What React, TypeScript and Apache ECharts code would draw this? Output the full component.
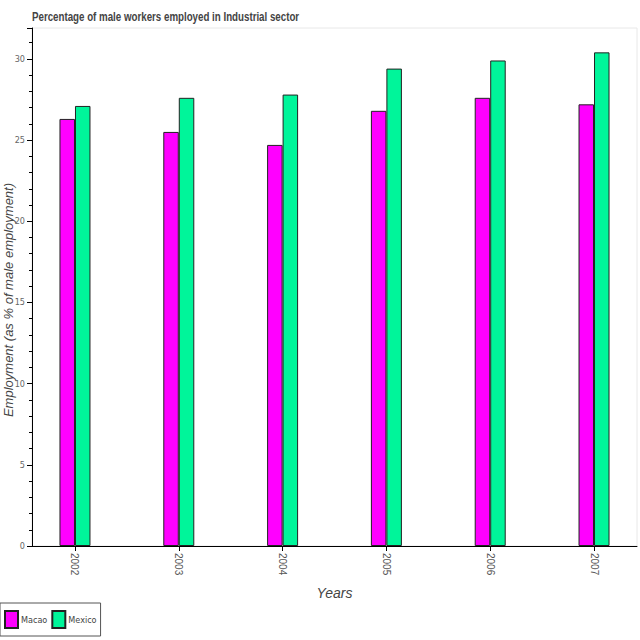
import React, { useEffect, useRef } from "react";
import * as echarts from "echarts";

const years = ["2002", "2003", "2004", "2005", "2006", "2007"];
const macao = [26.3, 25.5, 24.7, 26.8, 27.6, 27.2];
const mexico = [27.1, 27.6, 27.8, 29.4, 29.9, 30.4];
const yTicks = [0, 5, 10, 15, 20, 25, 30];
const titleText = "Percentage of male workers employed in Industrial sector";
const yName = "Employment (as % of male employment)";

export default function App() {
  const ref = useRef<HTMLDivElement>(null);
  useEffect(() => {
    if (!ref.current) return;
    const chart = echarts.init(ref.current, undefined, { renderer: "svg" });
    const idx = years.map((_, i) => i);
    chart.setOption({
      animation: false,
      backgroundColor: "#ffffff",
      graphic: [
        {
          type: "text",
          x: 32,
          y: 10,
          scaleX: 0.78,
          style: {
            text: titleText,
            font: "bold 12.5px Liberation Sans, Arial, sans-serif",
            fill: "#444444",
          },
        },
        {
          type: "text",
          x: 8,
          y: 300,
          rotation: Math.PI / 2,
          style: {
            text: yName,
            font: "italic 13px Liberation Sans, Arial, sans-serif",
            fill: "#444444",
            align: "center",
            verticalAlign: "middle",
          },
        },
      ],
      legend: {
        left: 0,
        top: 603,
        orient: "horizontal",
        icon: "rect",
        itemWidth: 13,
        itemHeight: 17,
        itemGap: 4,
        padding: [7, 4, 7, 4],
        borderColor: "#555555",
        borderWidth: 1,
        textStyle: { fontSize: 9, color: "#444444", fontFamily: "DejaVu Sans Condensed, sans-serif", padding: [0, 0, 0, -2] },
        data: ["Macao", "Mexico"],
      },
      grid: {
        left: 32,
        right: 3,
        top: 28,
        bottom: 94,
        outerBoundsMode: "none",
        containLabel: false,
        show: true,
        borderColor: "#e8e8e8",
        borderWidth: 1,
        backgroundColor: "#ffffff",
      },
      xAxis: {
        type: "value",
        min: -0.414,
        max: 5.414,
        name: "Years",
        nameLocation: "middle",
        nameGap: 40,
        nameMoveOverlap: false,
        nameTextStyle: { fontStyle: "italic", fontSize: 14, color: "#444444" },
        splitLine: { show: false },
        axisLine: { show: true, onZero: false, lineStyle: { color: "#000000", width: 1 } },
        axisTick: { show: true, customValues: idx, length: 5, lineStyle: { color: "#000000" } },
        axisLabel: {
          customValues: idx,
          rotate: -90,
          fontSize: 10,
          color: "#555555",
          margin: 7,
          formatter: (v: number) => years[Math.round(v)] ?? "",
        },
      },
      yAxis: {
        type: "value",
        min: 0,
        max: 31.9,
        interval: 5,
        splitLine: { show: false },
        axisLine: { show: true, onZero: false, lineStyle: { color: "#000000", width: 1 } },
        axisTick: { show: true, length: 5, lineStyle: { color: "#000000" } },
        minorTick: { show: true, splitNumber: 5, length: 3, lineStyle: { color: "#000000" } },
        axisLabel: {
          fontSize: 9,
          color: "#666666",
          margin: 7,
          fontFamily: "DejaVu Sans Condensed, sans-serif",
          formatter: (v: number) => (yTicks.includes(v) ? String(v) : ""),
        },
      },
      series: [
        {
          name: "Macao",
          type: "bar",
          barWidth: 15.5,
          barGap: "0%",
          data: macao.map((v, i) => [i, v]),
          itemStyle: { color: "#ff00ff", borderColor: "#222222", borderWidth: 1 },
        },
        {
          name: "Mexico",
          type: "bar",
          barWidth: 15.5,
          barGap: "0%",
          data: mexico.map((v, i) => [i, v]),
          itemStyle: { color: "#00f59a", borderColor: "#222222", borderWidth: 1 },
        },
      ],
    });
    return () => chart.dispose();
  }, []);
  return <div ref={ref} style={{ width: 640, height: 640, position: "fixed", left: 0, top: 0 }} />;
}
